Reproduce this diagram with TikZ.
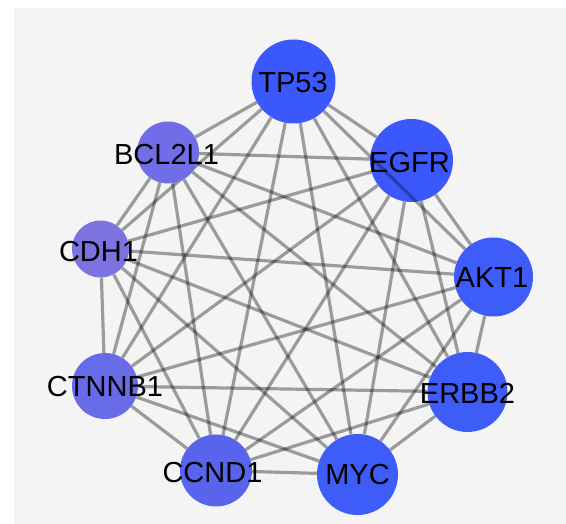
\documentclass[tikz,border=0pt]{standalone}
\usepackage{fontspec}
\setmainfont{Liberation Sans}
\definecolor{bgc}{RGB}{244,244,244}
\definecolor{cA}{RGB}{58,88,251}
\definecolor{cB}{RGB}{62,92,248}
\definecolor{cC}{RGB}{88,100,236}
\definecolor{cN}{RGB}{104,107,232}
\definecolor{cL}{RGB}{111,110,230}
\definecolor{cD}{RGB}{124,114,224}
\pgfdeclarelayer{bglayer}
\pgfdeclarelayer{edgelayer}
\pgfsetlayers{bglayer,edgelayer,main}
\begin{document}
\begin{tikzpicture}[x=1pt,y=1pt,
  gene/.style={circle, inner sep=0pt, draw=none},
  edge/.style={line width=3.2pt, draw=black, draw opacity=0.36},
  lbl/.style={font=\fontsize{29}{31}\selectfont, text=black, inner sep=0pt}]
\useasboundingbox (0,0) rectangle (566,524);
\begin{pgfonlayer}{bglayer}
\fill[bgc] (14,0) rectangle (566,516);
\end{pgfonlayer}
% nodes
\node[gene, fill=cA, minimum size=84pt] (tp53)   at (293.5,442.5) {};
\node[gene, fill=cA, minimum size=83pt] (egfr)   at (411.5,363.5) {};
\node[gene, fill=cB, minimum size=79pt] (akt1)   at (493.5,247) {};
\node[gene, fill=cB, minimum size=80pt] (erbb2)  at (467.5,132) {};
\node[gene, fill=cB, minimum size=81pt] (myc)    at (357.5,49.5) {};
\node[gene, fill=cC, minimum size=72pt] (ccnd1)  at (216,53.5) {};
\node[gene, fill=cN, minimum size=66pt] (ctnnb1) at (105,138) {};
\node[gene, fill=cD, minimum size=57pt] (cdh1)   at (100.5,275) {};
\node[gene, fill=cL, minimum size=62pt] (bcl2l1) at (168,371.5) {};
% edges (complete graph)
\begin{pgfonlayer}{edgelayer}
\foreach \a/\b in {tp53/egfr,tp53/akt1,tp53/erbb2,tp53/myc,tp53/ccnd1,tp53/ctnnb1,tp53/cdh1,tp53/bcl2l1,
  egfr/akt1,egfr/erbb2,egfr/myc,egfr/ccnd1,egfr/ctnnb1,egfr/cdh1,egfr/bcl2l1,
  akt1/erbb2,akt1/myc,akt1/ccnd1,akt1/ctnnb1,akt1/cdh1,akt1/bcl2l1,
  erbb2/myc,erbb2/ccnd1,erbb2/ctnnb1,erbb2/cdh1,erbb2/bcl2l1,
  myc/ccnd1,myc/ctnnb1,myc/cdh1,myc/bcl2l1,
  ccnd1/ctnnb1,ccnd1/cdh1,ccnd1/bcl2l1,
  ctnnb1/cdh1,ctnnb1/bcl2l1,
  cdh1/bcl2l1}
  \draw[edge] (\a) -- (\b);
\end{pgfonlayer}
% edge visible across EGFR
\begin{scope}
\clip (egfr.center) circle (41.5);
\draw[edge, draw opacity=0.3] (tp53) -- (akt1);
\end{scope}
% labels
\node[lbl] (tp53t)   at (293,441) {TP53};
\node[lbl] (egfrt)   at (409.5,361.5) {EGFR};
\node[lbl] (akt1t)   at (492,246) {AKT1};
\node[lbl] (erbb2t)  at (467.5,131) {ERBB2};
\node[lbl] (myct)    at (357.5,49) {MYC};
\node[lbl] (ccnd1t)  at (212.5,51.5) {CCND1};
\node[lbl] (ctnnb1t) at (105,137) {CTNNB1};
\node[lbl] (cdh1t)   at (98.5,272) {CDH1};
\node[lbl] (bcl2l1t) at (166.5,369) {BCL2L1};
\end{tikzpicture}
\end{document}
